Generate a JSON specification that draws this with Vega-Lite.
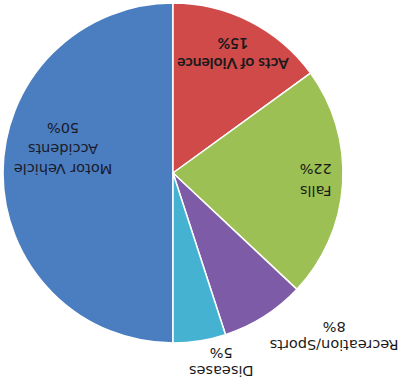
{
  "$schema": "https://vega.github.io/schema/vega-lite/v6.json",
  "width": 344,
  "height": 340,
  "padding": {"left": 0, "top": 0, "right": 0, "bottom": 14},
  "autosize": {"type": "pad"},
  "background": "white",
  "config": {"view": {"stroke": null}},
  "data": {
    "values": [
      {"idx": 1, "category": "Motor Vehicle Accidents", "label": "Motor Vehicle\nAccidents\n50%", "value": 50},
      {"idx": 2, "category": "Acts of Violence", "label": "Acts of Violence\n15%", "value": 15},
      {"idx": 3, "category": "Falls", "label": "Falls\n22%", "value": 22},
      {"idx": 4, "category": "Recreation/Sports", "label": "Recreation/Sports\n8%", "value": 8},
      {"idx": 5, "category": "Diseases", "label": "Diseases\n5%", "value": 5}
    ]
  },
  "transform": [
    {"stack": "value", "groupby": [], "sort": [{"field": "idx"}], "as": ["v0", "v1"]},
    {"calculate": "(datum.v0 + datum.v1) / 2", "as": "vmid"}
  ],
  "layer": [
    {
      "mark": {"type": "arc", "stroke": "white", "strokeWidth": 1.5},
      "encoding": {
        "theta": {"field": "v0", "type": "quantitative", "scale": {"domain": [0, 100], "range": [3.14159265, 9.42477796]}},
        "theta2": {"field": "v1"},
        "color": {
          "field": "category", "type": "nominal", "legend": null,
          "scale": {
            "domain": ["Motor Vehicle Accidents", "Acts of Violence", "Falls", "Recreation/Sports", "Diseases"],
            "range": ["#4a7ec0", "#d14a4a", "#9cc053", "#7d5ba6", "#45b2d2"]
          }
        }
      }
    },
    {
      "transform": [{"filter": "datum.idx == 1"}],
      "mark": {"type": "text", "radius": 110, "angle": 180, "dy": 5, "lineBreak": "\n", "lineHeight": 20.5, "font": "DejaVu Sans", "fontSize": 14.5, "color": "#1a1a2a", "align": "center", "baseline": "middle"},
      "encoding": {"theta": {"field": "vmid", "type": "quantitative"}, "text": {"field": "label"}}
    },
    {
      "transform": [{"filter": "datum.idx == 2"}],
      "mark": {"type": "text", "radius": 132, "angle": 180, "dy": -8, "lineBreak": "\n", "lineHeight": 20, "font": "Lato", "fontSize": 15.5, "fontWeight": "bold", "color": "#1a1a1a", "align": "center", "baseline": "middle"},
      "encoding": {"theta": {"field": "vmid", "type": "quantitative"}, "text": {"field": "label"}}
    },
    {
      "transform": [{"filter": "datum.idx == 3"}],
      "mark": {"type": "text", "radius": 143, "angle": 180, "dy": -8, "lineBreak": "\n", "lineHeight": 22, "font": "DejaVu Sans", "fontSize": 14.5, "color": "#1a1a1a", "align": "center", "baseline": "middle"},
      "encoding": {"theta": {"field": "vmid", "type": "quantitative"}, "text": {"field": "label"}}
    },
    {
      "transform": [{"filter": "datum.idx == 4"}],
      "mark": {"type": "text", "radius": 200, "angle": 180, "dx": -54, "dy": -2, "lineBreak": "\n", "lineHeight": 18, "font": "DejaVu Sans", "fontSize": 14.5, "color": "#1a1a1a", "align": "center", "baseline": "middle"},
      "encoding": {"theta": {"field": "vmid", "type": "quantitative"}, "text": {"field": "label"}}
    },
    {
      "transform": [{"filter": "datum.idx == 5"}],
      "mark": {"type": "text", "radius": 200, "angle": 180, "dx": -17, "dy": 1, "lineBreak": "\n", "lineHeight": 18, "font": "DejaVu Sans", "fontSize": 14.5, "color": "#1a1a1a", "align": "center", "baseline": "middle"},
      "encoding": {"theta": {"field": "vmid", "type": "quantitative"}, "text": {"field": "label"}}
    }
  ]
}
